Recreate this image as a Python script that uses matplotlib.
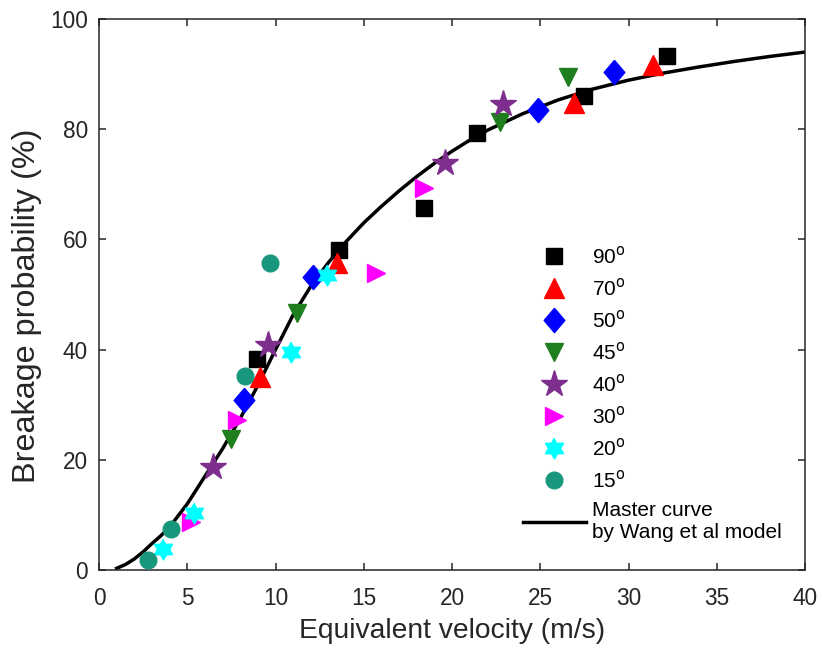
import numpy as np
import matplotlib.pyplot as plt
from matplotlib.path import Path
from matplotlib.lines import Line2D

plt.rcParams['font.family'] = ['Liberation Sans', 'DejaVu Sans']

# measured points per impact angle (equivalent velocity m/s, breakage %)
v90 = [8.95, 13.6, 18.4, 21.4, 27.5, 32.2]
p90 = [38.3, 58.1, 65.7, 79.3, 86.0, 93.3]
v70 = [9.1, 13.5, 26.9, 31.4]
p70 = [35.0, 55.7, 84.8, 91.6]
v50 = [8.2, 12.1, 24.9, 29.2]
p50 = [30.9, 53.2, 83.5, 90.4]
v45 = [7.5, 11.2, 22.7, 26.6]
p45 = [23.8, 46.6, 81.3, 89.5]
v40 = [6.45, 9.6, 19.6, 22.9]
p40 = [18.7, 40.8, 73.9, 84.6]
v30 = [5.2, 7.8, 15.7, 18.4]
p30 = [8.7, 27.2, 53.9, 69.3]
v20 = [3.6, 5.4, 10.9, 12.9]
p20 = [3.9, 10.3, 39.5, 53.5]
v15 = [2.8, 4.1, 8.3, 9.7]
p15 = [1.8, 7.4, 35.2, 55.7]

# master curve
curve_v = [1.0, 1.5, 2, 2.5, 3, 3.5, 4, 5, 6, 7, 8, 9, 10, 11, 12, 13, 14,
           15, 16, 17, 18, 19, 20, 21, 22, 24, 26, 28, 30, 32, 34, 36, 38, 40]
curve_p = [0.3, 1.0, 2.0, 3.3, 4.8, 6.2, 7.8, 12, 17, 22, 27.5, 33.5, 40,
           46.3, 51.5, 55.8, 59.6, 63.0, 66.0, 68.8, 71.4, 73.8, 76.0, 78.0,
           79.8, 82.8, 85.3, 87.3, 88.9, 90.2, 91.3, 92.3, 93.2, 94.0]

labels = ['90$^{\\mathrm{o}}$', '70$^{\\mathrm{o}}$', '50$^{\\mathrm{o}}$',
          '45$^{\\mathrm{o}}$', '40$^{\\mathrm{o}}$', '30$^{\\mathrm{o}}$',
          '20$^{\\mathrm{o}}$', '15$^{\\mathrm{o}}$']

# six-pointed star and a wide diamond
ang = np.linspace(np.pi / 2, np.pi / 2 + 2 * np.pi, 13)[:-1]
rad = np.array([1.0, 0.58] * 6)
hexagram = Path(np.column_stack([rad * np.cos(ang), rad * np.sin(ang)]))
diamond = Path([(0, 1), (0.85, 0), (0, -1), (-0.85, 0), (0, 1)])

fig = plt.figure(figsize=(8.22, 6.52), dpi=100)
ax = fig.add_axes([99 / 822, 1 - 570 / 652, 706 / 822, 551 / 652])

ax.plot(curve_v, curve_p, '-', color='black', lw=2.5, zorder=1)

series = [
    (v90, p90, 's', 'black', 11),
    (v70, p70, '^', '#ff0000', 14),
    (v50, p50, diamond, '#0000ff', 17.5),
    (v45, p45, 'v', '#1f7f1f', 13),
    (v40, p40, '*', '#7e2f8e', 20),
    (v30, p30, '>', '#ff00ff', 13),
    (v20, p20, hexagram, '#00ffff', 15),
    (v15, p15, 'o', '#19977c', 12),
]
handles = []
for (v, p, m, c, ms), lab in zip(series, labels):
    h, = ax.plot(v, p, linestyle='none', marker=m, color=c, ms=ms,
                 mec=c, label=lab, zorder=3)
    handles.append(h)

handles.append(Line2D([], [], color='black', lw=2.5))
labels = labels + ['Master curve\nby Wang et al model']

ax.legend(handles, labels, loc='upper left', bbox_to_anchor=(0.6, 0.5895),
          frameon=False, fontsize=15, handlelength=3.05, labelspacing=0.48,
          handletextpad=0.3, borderpad=0, borderaxespad=0)

ax.set_xlim(0, 40)
ax.set_ylim(0, 100)
ax.set_xticks(range(0, 41, 5))
ax.set_yticks(range(0, 101, 20))
ax.tick_params(direction='in', top=True, right=True, labelsize=16.3,
               colors='#262626', length=5, width=1.1)
ax.tick_params(axis='x', pad=12)
ax.tick_params(axis='y', pad=8)
for s in ax.spines.values():
    s.set_color('#262626')
    s.set_linewidth(1.1)
ax.set_xlabel('Equivalent velocity (m/s)', fontsize=20.3, color='#262626',
              labelpad=6)
ax.set_ylabel('Breakage probability (%)', fontsize=23.3, color='#262626')
ax.yaxis.set_label_coords(-0.081, 0.479)

fig.savefig('out.png', dpi=100)
